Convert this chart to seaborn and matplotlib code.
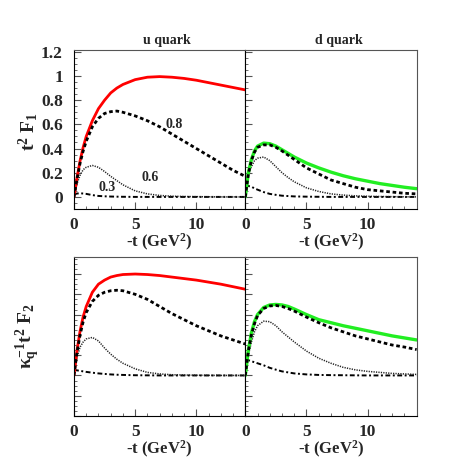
import numpy as np
import pandas as pd
import seaborn as sns
import matplotlib
matplotlib.use("Agg")
import matplotlib.pyplot as plt
from matplotlib.ticker import MultipleLocator

# common -t grid (GeV^2)
t = [0, 0.25, 0.5, 0.75, 1, 1.5, 2, 2.5, 3, 3.5, 4, 5, 6, 7, 8, 9, 10, 11, 12, 13, 14]

# t^2 F1, u quark
u_f1_full = [0, 0.16, 0.30, 0.41, 0.50, 0.63, 0.73, 0.80, 0.86, 0.90, 0.93, 0.97, 0.99,
             0.995, 0.99, 0.98, 0.965, 0.945, 0.925, 0.905, 0.885]
u_f1_08 = [0, 0.15, 0.28, 0.38, 0.46, 0.58, 0.65, 0.69, 0.705, 0.71, 0.70, 0.67, 0.63,
           0.58, 0.52, 0.46, 0.40, 0.34, 0.28, 0.22, 0.17]
u_f1_06 = [0, 0.11, 0.18, 0.225, 0.245, 0.26, 0.245, 0.21, 0.17, 0.135, 0.10, 0.05, 0.025,
           0.012, 0.006, 0.003, 0.002, 0.001, 0, 0, 0]
u_f1_03 = [0.02, 0.028, 0.03, 0.028, 0.025, 0.015, 0.008, 0.005, 0.003, 0.002, 0.001, 0, 0,
           0, 0, 0, 0, 0, 0, 0, 0]

# t^2 F1, d quark
d_f1_full = [0, 0.20, 0.31, 0.38, 0.42, 0.445, 0.44, 0.42, 0.39, 0.36, 0.33, 0.28, 0.24,
             0.205, 0.175, 0.15, 0.13, 0.11, 0.095, 0.08, 0.068]
d_f1_08 = [0, 0.19, 0.30, 0.37, 0.41, 0.43, 0.43, 0.41, 0.38, 0.345, 0.31, 0.24, 0.19,
           0.14, 0.11, 0.08, 0.06, 0.05, 0.04, 0.03, 0.025]
d_f1_06 = [0, 0.18, 0.25, 0.30, 0.32, 0.33, 0.30, 0.25, 0.20, 0.16, 0.125, 0.075, 0.045,
           0.025, 0.015, 0.009, 0.005, 0.003, 0.002, 0.001, 0]
d_f1_03 = [0.10, 0.09, 0.085, 0.07, 0.06, 0.04, 0.025, 0.017, 0.01, 0.007, 0.004, 0.002, 0.001,
           0, 0, 0, 0, 0, 0, 0, 0]

# kappa^-1 t^2 F2, u quark
u_f2_full = [0, 0.25, 0.44, 0.58, 0.68, 0.82, 0.90, 0.94, 0.97, 0.985, 0.995, 1.0, 0.995,
             0.985, 0.97, 0.955, 0.94, 0.92, 0.90, 0.875, 0.85]
u_f2_08 = [0, 0.23, 0.40, 0.53, 0.62, 0.73, 0.79, 0.82, 0.835, 0.84, 0.835, 0.80, 0.75,
           0.68, 0.61, 0.55, 0.49, 0.44, 0.39, 0.35, 0.31]
u_f2_06 = [0, 0.18, 0.28, 0.33, 0.36, 0.375, 0.34, 0.27, 0.21, 0.16, 0.12, 0.065, 0.03,
           0.015, 0.007, 0.004, 0.002, 0.001, 0, 0, 0]
u_f2_03 = [0.055, 0.05, 0.045, 0.04, 0.035, 0.027, 0.02, 0.015, 0.01, 0.007, 0.005, 0.002, 0.001,
           0, 0, 0, 0, 0, 0, 0, 0]

# kappa^-1 t^2 F2, d quark
d_f2_full = [0, 0.25, 0.42, 0.53, 0.60, 0.67, 0.695, 0.70, 0.695, 0.68, 0.655, 0.60, 0.55,
             0.52, 0.49, 0.465, 0.44, 0.415, 0.39, 0.37, 0.35]
d_f2_08 = [0, 0.24, 0.40, 0.51, 0.59, 0.66, 0.685, 0.69, 0.68, 0.66, 0.635, 0.575, 0.52,
           0.47, 0.43, 0.39, 0.36, 0.33, 0.30, 0.28, 0.255]
d_f2_06 = [0, 0.20, 0.33, 0.43, 0.49, 0.535, 0.53, 0.49, 0.43, 0.38, 0.33, 0.24, 0.17,
           0.12, 0.08, 0.055, 0.04, 0.03, 0.02, 0.015, 0.01]
d_f2_03 = [0.16, 0.15, 0.14, 0.13, 0.12, 0.10, 0.075, 0.057, 0.04, 0.03, 0.02, 0.01, 0.005,
           0.003, 0.002, 0.001, 0, 0, 0, 0, 0]

x_ticks = [0, 5, 10]
y_ticks_top = [0, 0.2, 0.4, 0.6, 0.8, 1.0, 1.2]
y_labels_top = ["0", "0.2", "0.4", "0.6", "0.8", "1", "1.2"]
curve_labels = ["0.8", "0.6", "0.3"]

sns.set_style("ticks")
plt.rcParams["font.family"] = ["Liberation Serif", "DejaVu Serif"]
plt.rcParams["font.weight"] = "bold"
plt.rcParams["mathtext.fontset"] = "custom"
plt.rcParams["mathtext.rm"] = "Liberation Serif:bold"
plt.rcParams["mathtext.it"] = "Liberation Serif:bold"
plt.rcParams["mathtext.bf"] = "Liberation Serif:bold"

fig = plt.figure(figsize=(4.63, 4.63), dpi=100)
W = 0.370
axes = {
    "u1": fig.add_axes([0.1598, 0.5486, W, 0.3434]),
    "d1": fig.add_axes([0.5298, 0.5486, W, 0.3434]),
    "u2": fig.add_axes([0.1598, 0.1015, W, 0.3428]),
    "d2": fig.add_axes([0.5298, 0.1015, W, 0.3428]),
}

panels = {
    "u1": (u_f1_full, u_f1_08, u_f1_06, u_f1_03, "red"),
    "d1": (d_f1_full, d_f1_08, d_f1_06, d_f1_03, "#22ee22"),
    "u2": (u_f2_full, u_f2_08, u_f2_06, u_f2_03, "red"),
    "d2": (d_f2_full, d_f2_08, d_f2_06, d_f2_03, "#22ee22"),
}

for key, ax in axes.items():
    full, c08, c06, c03, col = panels[key]
    df = pd.DataFrame({"t": t, "full": full, "c08": c08, "c06": c06, "c03": c03})
    sns.lineplot(data=df, x="t", y="c03", ax=ax, color="black", lw=1.4,
                 linestyle=(0, (2.5, 1.3, 1, 1.3)))
    sns.lineplot(data=df, x="t", y="c06", ax=ax, color="#222222", lw=1.1,
                 linestyle=(0, (0.8, 0.8)))
    sns.lineplot(data=df, x="t", y="full", ax=ax, color=col, lw=2.0 if col == "red" else 2.4)
    sns.lineplot(data=df, x="t", y="c08", ax=ax, color="black", lw=2.0,
                 linestyle=(0, (1.3, 1.0)))

    ax.set_xlim(0, 14)
    if key.endswith("1"):
        ax.set_ylim(-0.1, 1.215)
    else:
        ax.set_ylim(-0.4, 1.165)
    ax.xaxis.set_major_locator(MultipleLocator(5))
    ax.xaxis.set_minor_locator(MultipleLocator(1))
    ax.yaxis.set_major_locator(MultipleLocator(0.2))
    ax.yaxis.set_minor_locator(MultipleLocator(0.05))
    ax.tick_params(which="major", direction="in", length=5, width=0.8, top=False, right=False,
                   labelsize=12.5, color="#555555")
    ax.tick_params(axis="x", which="major", pad=6)
    ax.tick_params(axis="y", which="major", pad=8)
    ax.tick_params(which="minor", direction="in", length=2.5, width=0.6, top=False, right=False,
                   color="#555555")
    ax.set_xticks(x_ticks)
    ax.set_xticklabels([str(v) for v in x_ticks])
    if key == "u1":
        ax.set_yticks(y_ticks_top)
        ax.set_yticklabels(y_labels_top)
    else:
        ax.set_yticklabels([])
    for lab in ax.get_xticklabels() + ax.get_yticklabels():
        lab.set_fontweight("bold")
    for s in ax.spines.values():
        s.set_visible(True)
        s.set_linewidth(0.8)
        s.set_color("#555555")
    ax.spines["left"].set_color("black")
    ax.spines["bottom"].set_color("black")
    ax.set_xlabel("-t (GeV$^2$)", fontsize=12, fontweight="bold", labelpad=-1)
    ax.set_ylabel("")

axes["u1"].text(0.545, 1.06, "u quark", transform=axes["u1"].transAxes, ha="center",
                va="center", fontsize=10, fontweight="bold")
axes["d1"].text(0.545, 1.06, "d quark", transform=axes["d1"].transAxes, ha="center",
                va="center", fontsize=10, fontweight="bold")

for lab, (tx, ty) in zip(curve_labels, [(8.2, 0.6), (6.2, 0.16), (2.7, 0.08)]):
    axes["u1"].text(tx, ty, lab, ha="center", va="center", fontsize=10, fontweight="bold")

fig.text(28 / 463, 1 - 132 / 463, r"t$^{2}$ F$_{1}$", rotation=90, ha="center", va="center",
         fontsize=14, fontweight="bold")
fig.text(28 / 463, 1 - 336 / 463, r"$\kappa_q^{-1}$t$^{2}$ F$_{2}$", rotation=90,
         ha="center", va="center", fontsize=14, fontweight="bold")

fig.savefig("out.png", dpi=100)
